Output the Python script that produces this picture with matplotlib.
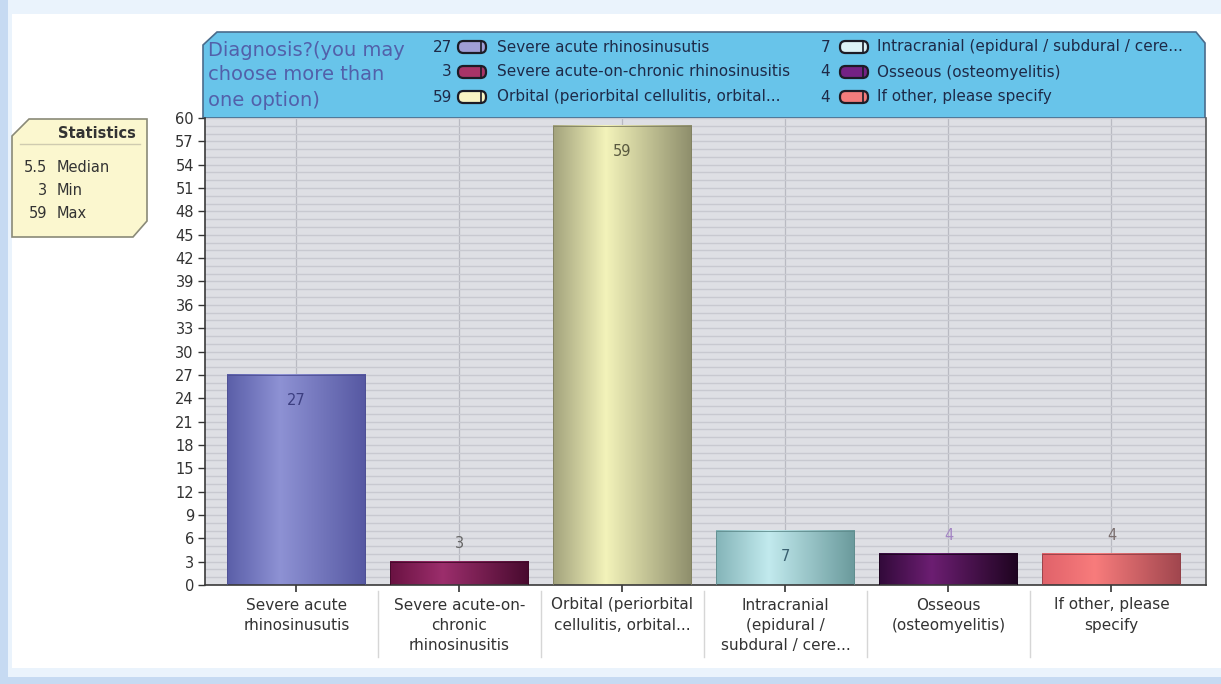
import numpy as np
import matplotlib
matplotlib.use("Agg")
import matplotlib.pyplot as plt
from matplotlib.patches import Polygon, Rectangle, FancyBboxPatch
from matplotlib.colors import to_rgb

plt.rcParams['font.family'] = ['DejaVu Sans']

# ---------------- data ----------------
categories = ["Severe acute\nrhinosinusutis",
              "Severe acute-on-\nchronic\nrhinosinusitis",
              "Orbital (periorbital\ncellulitis, orbital...",
              "Intracranial\n(epidural /\nsubdural / cere...",
              "Osseous\n(osteomyelitis)",
              "If other, please\nspecify"]
legend_labels = ["Severe acute rhinosinusutis",
                 "Severe acute-on-chronic rhinosinusitis",
                 "Orbital (periorbital cellulitis, orbital...",
                 "Intracranial (epidural / subdural / cere...",
                 "Osseous (osteomyelitis)",
                 "If other, please specify"]
counts = [27, 3, 59, 7, 4, 4]
title_lines = ["Diagnosis?(you may", "choose more than", "one option)"]
stat_labels = ["Median", "Min", "Max"]
y_ticks = list(range(0, 61, 3))

# ---------------- styles ----------------
bar_grad = [("#5a5ea8", "#8e92d4", "#5658a2"),
            ("#6a1242", "#9c2e6c", "#480a2e"),
            ("#a2a27c", "#f3f3ba", "#8e8e6c"),
            ("#84b4b8", "#c2eaee", "#6a9a9c"),
            ("#320a3a", "#6c1e72", "#1e0420"),
            ("#e0626a", "#f87c7c", "#a0464e")]
swatch_cols = ["#a09ed6", "#a83468", "#f9f5c4", "#dcf2f6", "#742284", "#f27c7c"]
label_cols = ["#3c3e80", "#666666", "#5a5a40", "#3a6070", "#a486c4", "#7a6e6e"]
text_col = "#333333"

W, H = 1221, 684
fig = plt.figure(figsize=(W / 100, H / 100), dpi=100)
fig.patch.set_facecolor("#eaf3fc")

# background / decoration axes in pixel coordinates
bg = fig.add_axes([0, 0, 1, 1], zorder=0)
bg.set_xlim(0, W)
bg.set_ylim(H, 0)
bg.axis("off")
bg.add_patch(Rectangle((12, 14), W - 12, 654, facecolor="white", edgecolor="none"))
bg.add_patch(Rectangle((0, 0), 8, H, facecolor="#c6daf2", edgecolor="none"))
bg.add_patch(Rectangle((0, 677), W, H - 677, facecolor="#c6daf2", edgecolor="none"))

# legend / title box
leg_poly = [(203, 118), (203, 45), (217, 32), (1196, 32), (1205, 43), (1205, 118)]
bg.add_patch(Polygon(leg_poly, closed=True, facecolor="#68c4ea",
                     edgecolor="#4a6c8c", linewidth=1.2))
for i, line in enumerate(title_lines):
    bg.text(208, 50 + 25 * i, line, fontsize=14, color="#5260aa",
            ha="left", va="center")
col_x = [(452, 457, 497), (830, 839, 877)]
row_y = [47, 72, 97]
for i, (lab, n) in enumerate(zip(legend_labels, counts)):
    cx, sx, lx = col_x[i // 3]
    y = row_y[i % 3]
    bg.text(cx, y, str(n), fontsize=11, color="#1e2a48", ha="right", va="center")
    bg.add_patch(FancyBboxPatch((sx + 1, y - 6), 28, 12,
                                boxstyle="round,pad=0,rounding_size=5.5",
                                facecolor=swatch_cols[i], edgecolor="#1c1c26",
                                linewidth=1.6))
    bg.plot([sx + 24, sx + 24], [y - 5.5, y + 5.5], color="#1c1c26", lw=1.2)
    bg.text(lx, y, lab, fontsize=11, color="#1e2a48", ha="left", va="center")

# statistics box
arr = np.array(counts, dtype=float)
stat_values = [np.median(arr), arr.min(), arr.max()]
st_poly = [(12, 136), (29, 119), (147, 119), (147, 221), (133, 237), (12, 237)]
bg.add_patch(Polygon(st_poly, closed=True, facecolor="#fbf7cf",
                     edgecolor="#8a8a78", linewidth=1.2))
bg.text(97, 133, "Statistics", fontsize=10.5, fontweight="bold", color=text_col,
        ha="center", va="center")
bg.plot([20, 140], [144, 144], color="#cfcbb0", lw=1)
for i, (lab, v) in enumerate(zip(stat_labels, stat_values)):
    y = 167 + 23.5 * i
    bg.text(47, y, f"{v:g}", fontsize=10.5, color=text_col, ha="right", va="center")
    bg.text(57, y, lab, fontsize=10.5, color=text_col, ha="left", va="center")

# ---------------- main axes ----------------
L, R, T, B = 205, 1206, 118, 585
ax = fig.add_axes([L / W, (H - B) / H, (R - L) / W, (B - T) / H], zorder=2)
ax.set_facecolor("#dedfe4")
x = np.arange(len(counts))
ax.set_xlim(-0.561, 5.58)
ax.set_ylim(0, 60)

ax.set_yticks(y_ticks)
ax.set_yticks(range(0, 61), minor=True)
ax.tick_params(axis="y", which="minor", length=0)
ax.grid(which="both", axis="y", color="#c8c9d0", linewidth=1.0, zorder=0)
ax.set_axisbelow(True)
for xi in x:
    ax.axvline(xi, color="#b9bac2", linewidth=0.9, zorder=0.5)

bars = ax.bar(x, counts, width=0.847, color="none", edgecolor="none", zorder=2)
for i, rect in enumerate(bars):
    c0, c1, c2 = (np.array(to_rgb(c)) for c in bar_grad[i])
    t = np.linspace(0, 1, 200)
    grad = np.empty((1, t.size, 3))
    for k in range(3):
        grad[0, :, k] = np.interp(t, [0, 0.38, 1.0], [c0[k], c1[k], c2[k]])
    x0, w, h = rect.get_x(), rect.get_width(), rect.get_height()
    ax.imshow(grad, extent=(x0, x0 + w, 0, h), aspect="auto", zorder=2,
              interpolation="bilinear")
    ax.add_patch(Rectangle((x0, 0), w, h, facecolor="none",
                           edgecolor=tuple(c2 * 0.9), linewidth=0.6, zorder=3))
    px_h = h * (B - T) / 60.0
    if px_h > 40:
        off = -26
    else:
        off = 18
    ax.annotate(str(counts[i]), (x[i], h), xytext=(0, off),
                textcoords="offset pixels", ha="center", va="center",
                fontsize=10.5, color=label_cols[i], zorder=4)
ax.set_xlim(-0.561, 5.58)
ax.set_ylim(0, 60)

ax.set_xticks(x)
ax.set_xticklabels(categories, fontsize=11, color=text_col, linespacing=1.45)
ax.tick_params(axis="x", length=5, width=1.2, color="#333333", pad=4)
ax.tick_params(axis="y", which="major", length=5, width=1.0, color="#333333",
               pad=3, labelsize=10.5, labelcolor=text_col)
for s in ["left", "bottom", "right"]:
    ax.spines[s].set_color("#3a3a3a")
    ax.spines[s].set_linewidth(1.2)
ax.spines["right"].set_color("#555555")
ax.spines["top"].set_visible(False)

# separators between category labels below the axis
for b in np.arange(len(counts) - 1) + 0.5:
    ax.plot([b, b], [-0.012, -0.155], transform=ax.get_xaxis_transform(),
            color="#d6d6d6", linewidth=1.0, clip_on=False)

fig.savefig("out.png", dpi=100, facecolor=fig.get_facecolor())
